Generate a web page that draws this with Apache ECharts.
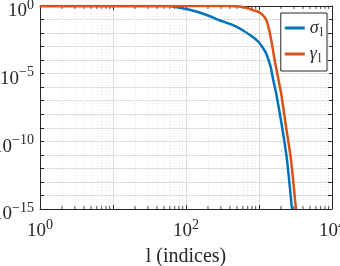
<!DOCTYPE html>
<html>
<head>
<meta charset="utf-8">
<script src="https://cdn.jsdelivr.net/npm/echarts@6/dist/echarts.min.js"></script>
<style>
  html, body { margin: 0; padding: 0; background: #fff; }
  #chart { width: 340px; height: 266px; }
</style>
</head>
<body>
<div id="chart"></div>
<script>
// l (indices) and values
const sigmaIdx = [1, 30, 59, 81, 101, 130, 167, 221, 286, 380, 487, 606, 733, 858, 1000, 1134, 1250, 1374, 1463, 1560, 1711, 2066, 2417, 2830]
const sigmaVal = [1, 1, 0.99, 0.74, 0.6, 0.43, 0.28, 0.16, 0.089, 0.052, 0.03, 0.0155, 0.0079, 0.0043, 0.002, 7.9e-4, 3.2e-4, 7.9e-5, 2.4e-5, 3.7e-6, 4e-7, 1.26e-9, 4.5e-12, 1e-15]
const gammaIdx = [1, 100, 391, 535, 667, 826, 1000, 1134, 1250, 1374, 1510, 1660, 2000, 2343, 2742, 3206]
const gammaVal = [1, 1, 1, 0.92, 0.74, 0.5, 0.35, 0.2, 0.1, 0.018, 1.4e-3, 6.6e-5, 4e-7, 1.26e-9, 4.5e-12, 1e-15]
const xTickExps = [0, 2, 4]
const yTickExps = [-15, -10, -5, 0]
const xMinorTicks = [2, 3, 4, 5, 6, 7, 8, 9, 20, 30, 40, 50, 60, 70, 80, 90,
  200, 300, 400, 500, 600, 700, 800, 900, 2000, 3000, 4000, 5000, 6000, 7000, 8000, 9000]

const axisColor = '#262626'
const serif = '"Liberation Serif", "Times New Roman", serif'
const exp10 = (v) => Math.round(Math.log10(v))
const powLabel = (v, keep) => {
  const e = exp10(v)
  return keep.indexOf(e) >= 0 ? '{b|10}{s|' + String(e).replace('-', '\u2212') + '}' : ''
}
const labelRich = {
  b: { fontFamily: serif, fontSize: 19, color: axisColor },
  s: { fontFamily: serif, fontSize: 14, color: axisColor, padding: [0, 0, 13, 0] }
}
const dotted = { color: '#e3e3e3', type: [1, 2], width: 1 }

const chart = echarts.init(document.getElementById('chart'))
const option = {
  animation: false,
  grid: { left: 40, top: 6, right: 8, bottom: 57, outerBoundsMode: 'none', containLabel: false },
  legend: {
    data: ['sigma', 'gamma'],
    right: 13, top: 13, orient: 'vertical',
    backgroundColor: '#fff', borderColor: axisColor, borderWidth: 1,
    padding: [6, 4, 6, 4], itemGap: 6, itemWidth: 20, itemHeight: 3, icon: 'rect',
    formatter: (name) => name === 'sigma' ? '{a|σ}{s|l}' : '{a|γ}{s|l}',
    textStyle: {
      fontFamily: serif,
      rich: {
        a: { fontFamily: serif, fontSize: 18, fontStyle: 'italic', color: axisColor },
        s: { fontFamily: serif, fontSize: 12, color: axisColor, padding: [10, 0, 0, 1] }
      }
    }
  },
  xAxis: [
    {
      type: 'log', min: 1, max: 10000, position: 'bottom', splitNumber: 4,
      name: 'l (indices)', nameLocation: 'middle', nameGap: 38,
      nameTextStyle: { fontFamily: serif, fontSize: 20, color: axisColor },
      axisLine: { lineStyle: { color: axisColor, width: 1 } },
      axisTick: { inside: true, length: 4, lineStyle: { color: axisColor } },
      axisLabel: { margin: 9, fontFamily: serif, formatter: (v) => powLabel(v, xTickExps), rich: labelRich },
      splitLine: {
        show: true, lineStyle: { color: '#dcdcdc', width: 1 },
        interval: (i, v) => xTickExps.indexOf(exp10(v)) >= 0
      }
    },
    {
      type: 'log', min: 1, max: 10000, position: 'top', splitNumber: 4,
      axisLine: { lineStyle: { color: axisColor, width: 1 } },
      axisTick: { inside: true, length: 4, lineStyle: { color: axisColor } },
      axisLabel: { show: false },
      splitLine: { show: true, lineStyle: dotted }
    }
  ],
  yAxis: [
    {
      type: 'log', min: 1e-15, max: 1, position: 'left', interval: 1, splitNumber: 30,
      axisLine: { show: true, lineStyle: { color: axisColor, width: 1 } },
      axisTick: { show: true, inside: true, length: 4, lineStyle: { color: axisColor } },
      axisLabel: {
        margin: 6, padding: [11, 0, 0, 0], fontFamily: serif,
        formatter: (v) => powLabel(v, yTickExps), rich: labelRich
      },
      splitLine: {
        show: true, lineStyle: { color: '#dcdcdc', width: 1 },
        interval: (i, v) => yTickExps.indexOf(exp10(v)) >= 0
      }
    },
    {
      type: 'log', min: 1e-15, max: 1, position: 'right', interval: 1, splitNumber: 30,
      axisLine: { show: true, lineStyle: { color: axisColor, width: 1 } },
      axisTick: { show: true, inside: true, length: 4, lineStyle: { color: axisColor } },
      axisLabel: { show: false },
      splitLine: { show: true, lineStyle: dotted }
    }
  ],
  series: [
    {
      // minor grid lines and minor ticks at 2..9 of each decade
      name: 'minorBottom', type: 'scatter', silent: true, clip: false, z: 1,
      symbol: 'rect', symbolSize: [1, 3], symbolOffset: [0, -1.5],
      itemStyle: { color: axisColor },
      data: xMinorTicks.map((v) => [v, 1e-15]),
      markLine: {
        silent: true, symbol: 'none', label: { show: false }, animation: false, z: 1,
        lineStyle: dotted,
        data: xMinorTicks.map((v) => ({ xAxis: v }))
      }
    },
    {
      name: 'minorTop', type: 'scatter', silent: true, clip: false, z: 1,
      symbol: 'rect', symbolSize: [1, 3], symbolOffset: [0, 1.5],
      itemStyle: { color: axisColor },
      data: xMinorTicks.map((v) => [v, 1])
    },
    {
      name: 'sigma', type: 'line', showSymbol: false, smooth: 0.2, z: 5,
      data: sigmaIdx.map((l, i) => [l, sigmaVal[i]]),
      lineStyle: { color: '#0072BD', width: 2.5 }, itemStyle: { color: '#0072BD' }
    },
    {
      name: 'gamma', type: 'line', showSymbol: false, smooth: 0.2, z: 5,
      data: gammaIdx.map((l, i) => [l, gammaVal[i]]),
      lineStyle: { color: '#D95319', width: 2.5 }, itemStyle: { color: '#D95319' }
    }
  ]
}
chart.setOption(option)
</script>
</body>
</html>
